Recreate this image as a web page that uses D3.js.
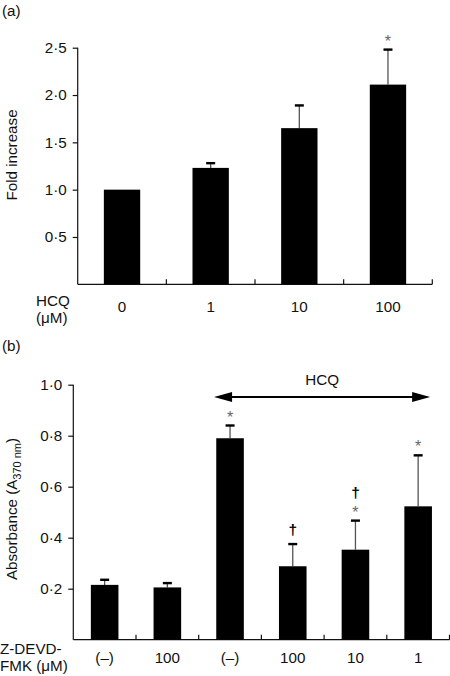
<!DOCTYPE html>
<html><head><meta charset="utf-8">
<script src="https://cdn.jsdelivr.net/npm/d3@7"></script>
<style>
html,body{margin:0;padding:0;background:#fff;}
svg{display:block;font-family:"Liberation Sans",Arial,sans-serif;}
</style></head>
<body>
<script>
// Panel (a)
const catsA = ["0", "1", "10", "100"];
const valsA = [1.0, 1.23, 1.65, 2.11];
const errA = [0, 0.05, 0.24, 0.37];
const starA = [false, false, false, true];
const ticksA = [0.5, 1.0, 1.5, 2.0, 2.5];

// Panel (b)
const catsB = ["(\u2013)", "100", "(\u2013)", "100", "10", "1"];
const valsB = [0.215, 0.205, 0.79, 0.288, 0.353, 0.523];
const errB = [0.02, 0.017, 0.05, 0.087, 0.114, 0.2];
const starB = [false, false, true, false, true, true];
const daggerB = [false, false, false, true, true, false];
const ticksB = [0.2, 0.4, 0.6, 0.8, 1.0];

const W = 450, H = 676, FS = 15.2;
const svg = d3.select("body").append("svg").attr("width", W).attr("height", H);
const fmt = d => d3.format(".1f")(d).replace(".", "\u00b7");

function panel(opt) {
  const g = svg.append("g");
  const x = d3.scaleBand().domain(d3.range(opt.cats.length)).range(opt.xr).padding(0);
  const y = d3.scaleLinear().domain([0, opt.ymax]).range(opt.yr);
  const bw = x.bandwidth() * opt.barFrac;

  // y axis
  const ya = g.append("g").attr("transform", `translate(${opt.xr[0]},0)`)
    .call(d3.axisLeft(y).tickValues(opt.ticks).tickFormat(fmt).tickSize(5).tickPadding(6));
  ya.select(".domain").attr("d", `M0,${y(0)}V${y(opt.ymax)}`);
  ya.selectAll("line,path").attr("stroke", "#111").attr("stroke-width", 1.2);
  ya.selectAll("text").attr("font-size", FS).attr("fill", "#111").attr("font-family", "Liberation Sans, Arial, sans-serif");

  // x axis baseline with inward ticks at band boundaries
  g.append("line").attr("x1", opt.xr[0]).attr("x2", opt.xr[1]).attr("y1", y(0)).attr("y2", y(0))
    .attr("stroke", "#111").attr("stroke-width", 1.2);
  g.selectAll(".xt").data(d3.range(1, opt.cats.length + 1)).join("line")
    .attr("x1", i => x(i - 1) + x.step()).attr("x2", i => x(i - 1) + x.step())
    .attr("y1", y(0)).attr("y2", y(0) - 5).attr("stroke", "#111").attr("stroke-width", 1.2);

  // error bars
  const cx = i => x(i) + x.bandwidth() / 2;
  const errIdx = d3.range(opt.vals.length).filter(i => opt.errs[i] > 0);
  g.selectAll(".el").data(errIdx).join("line")
    .attr("x1", cx).attr("x2", cx)
    .attr("y1", i => y(opt.vals[i])).attr("y2", i => y(opt.vals[i] + opt.errs[i]))
    .attr("stroke", "#555").attr("stroke-width", 1.3);
  g.selectAll(".ec").data(errIdx).join("line")
    .attr("x1", i => cx(i) - 4.5).attr("x2", i => cx(i) + 4.5)
    .attr("y1", i => y(opt.vals[i] + opt.errs[i])).attr("y2", i => y(opt.vals[i] + opt.errs[i]))
    .attr("stroke", "#000").attr("stroke-width", 2.4);

  // bars
  g.selectAll(".bar").data(opt.vals).join("rect")
    .attr("x", (d, i) => cx(i) - bw / 2).attr("width", bw)
    .attr("y", d => y(d)).attr("height", d => y(0) - y(d)).attr("fill", "#000");

  // category labels
  g.selectAll(".cl").data(opt.cats).join("text")
    .attr("x", (d, i) => cx(i)).attr("y", opt.catY).attr("text-anchor", "middle")
    .attr("font-size", FS).attr("fill", "#111").text(d => d);

  // stars and daggers
  const top = i => y(opt.vals[i] + opt.errs[i]);
  g.selectAll(".st").data(d3.range(opt.vals.length).filter(i => opt.stars[i])).join("text")
    .attr("x", cx).attr("y", i => top(i) - 3).attr("text-anchor", "middle")
    .attr("font-size", 16).attr("fill", "#666").text("*");
  if (opt.daggers) {
    g.selectAll(".dg").data(d3.range(opt.vals.length).filter(i => opt.daggers[i])).join("text")
      .attr("x", cx).attr("y", i => top(i) - (opt.stars[i] ? 22.5 : 9.5)).attr("text-anchor", "middle")
      .attr("font-size", 15.5).attr("font-weight", "bold").attr("fill", "#000").text("\u2020");
  }
  return {x, y, g, cx};
}

// ---- Panel (a)
svg.append("text").attr("x", 2).attr("y", 16).attr("font-size", FS).attr("fill", "#111").text("(a)");
const pa = panel({cats: catsA, vals: valsA, errs: errA, stars: starA, ticks: ticksA, ymax: 2.5,
  xr: [77.7, 432.3], yr: [284.3, 47.7], barFrac: 0.41, catY: 311.7});
svg.append("text").attr("transform", "translate(17,155) rotate(-90)").attr("text-anchor", "middle")
  .attr("font-size", FS).attr("fill", "#111").text("Fold increase");
svg.append("text").attr("x", 36).attr("y", 306).attr("font-size", FS).attr("fill", "#111").text("HCQ");
svg.append("text").attr("x", 36).attr("y", 323).attr("font-size", FS).attr("fill", "#111").text("(\u03bcM)");

// ---- Panel (b)
svg.append("text").attr("x", 2).attr("y", 351).attr("font-size", FS).attr("fill", "#111").text("(b)");
const pb = panel({cats: catsB, vals: valsB, errs: errB, stars: starB, daggers: daggerB, ticks: ticksB, ymax: 1.0,
  xr: [73.3, 449.5], yr: [639.7, 384.7], barFrac: 0.44, catY: 662.5});
const yl = svg.append("text").attr("transform", "translate(17,509) rotate(-90)").attr("text-anchor", "middle")
  .attr("font-size", FS).attr("fill", "#111");
yl.append("tspan").text("Absorbance (A");
yl.append("tspan").attr("font-size", 11).attr("dy", 4).text("370 nm");
yl.append("tspan").attr("dy", -4).text(")");
svg.append("text").attr("x", 0).attr("y", 653.5).attr("font-size", FS).attr("fill", "#111").text("Z-DEVD-");
svg.append("text").attr("x", 0).attr("y", 670.5).attr("font-size", FS).attr("fill", "#111").text("FMK (\u03bcM)");

// HCQ double arrow spanning categories 3..6
const ax1 = pb.cx(2) - 16, ax2 = pb.cx(5) + 12, ay = 397;
svg.append("line").attr("x1", ax1 + 10).attr("x2", ax2 - 10).attr("y1", ay).attr("y2", ay)
  .attr("stroke", "#000").attr("stroke-width", 2.2);
svg.append("path").attr("d", `M${ax1},${ay}L${ax1 + 18},${ay - 5}L${ax1 + 18},${ay + 5}Z`).attr("fill", "#000");
svg.append("path").attr("d", `M${ax2},${ay}L${ax2 - 18},${ay - 5}L${ax2 - 18},${ay + 5}Z`).attr("fill", "#000");
svg.append("text").attr("x", (ax1 + ax2) / 2).attr("y", 385).attr("text-anchor", "middle")
  .attr("font-size", FS).attr("fill", "#111").text("HCQ");
</script>
</body></html>
